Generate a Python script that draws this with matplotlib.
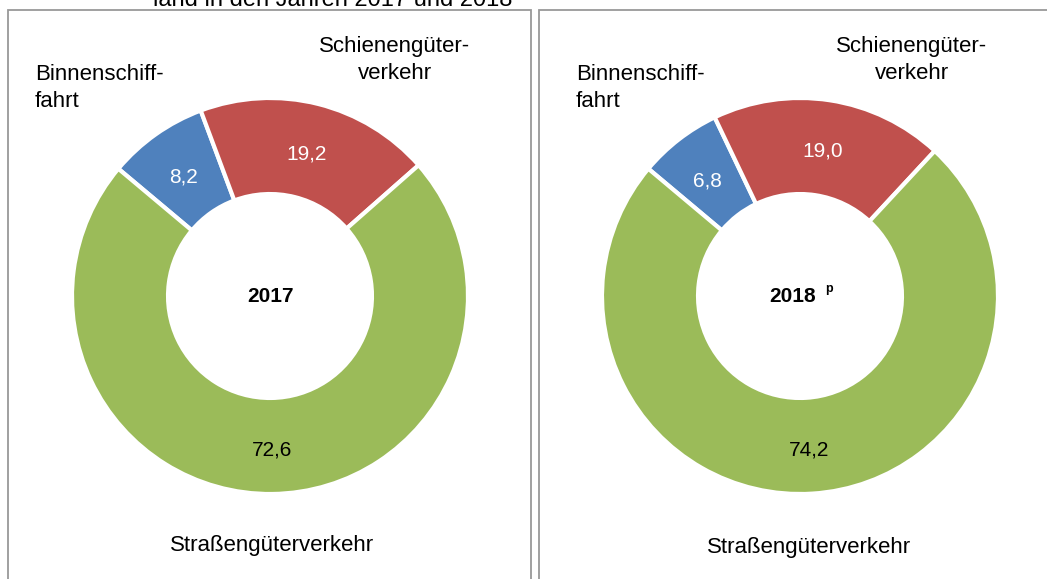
import numpy as np
import matplotlib.pyplot as plt
from matplotlib.patches import Rectangle

plt.rcParams['font.family'] = ['Liberation Sans', 'DejaVu Sans']

# Anteile am Gueterverkehr (Binnenschiff, Schiene, Strasse)
categories = ['Binnenschifffahrt', 'Schienengüterverkehr', 'Straßengüterverkehr']
values_2017 = [8.2, 19.2, 72.6]
values_2018 = [6.8, 19.0, 74.2]
years = ['2017', '2018']
colors = ['#4F81BD', '#C0504D', '#9BBB59']
label_colors = ['white', 'white', 'black']

W, H = 1047, 579
fig = plt.figure(figsize=(W / 100, H / 100), dpi=100)

# panel borders
for x0, x1 in [(8, 531), (539, 1060)]:
    fig.add_artist(Rectangle((x0 / W, -0.05), (x1 - x0) / W, (H - 10) / H + 0.05,
                             transform=fig.transFigure, fill=False,
                             edgecolor='#999999', linewidth=1.3))

# title is cut off at the top edge in the original
fig.text(333 / W, 1 - 6 / H, 'land in den Jahren 2017 und 2018', ha='center',
         va='baseline', fontsize=17)


def donut(cx, cy, vals, year, sup, bin_x, sch_x, str_x, str_y):
    r = 198
    ax = fig.add_axes([(cx - r) / W, (H - cy - r) / H, 2 * r / W, 2 * r / H])
    wedges, _ = ax.pie(vals, colors=colors, startangle=140, counterclock=False,
                       radius=1, wedgeprops=dict(width=0.485, edgecolor='white', linewidth=3))
    ax.set_xlim(-1, 1)
    ax.set_ylim(-1, 1)
    # value labels in the ring
    for w, v, c in zip(wedges, vals, label_colors):
        ang = np.deg2rad((w.theta1 + w.theta2) / 2)
        rr = 0.76
        ax.text(rr * np.cos(ang), rr * np.sin(ang) - 0.02, f'{v:.1f}'.replace('.', ','),
                ha='center', va='center', fontsize=15, color=c)
    if sup:
        ax.text(-0.04, 0, year, ha='center', va='center', fontsize=15, fontweight='bold')
        ax.text(0.146, 0.035, sup, ha='center', va='center', fontsize=9, fontweight='bold')
    else:
        ax.text(0, 0, year, ha='center', va='center', fontsize=15, fontweight='bold')
    ax.text((bin_x - cx) / r, (cy - 88) / r, 'Binnenschiff-\nfahrt', ha='left',
            va='center', fontsize=16, linespacing=1.33, clip_on=False)
    ax.text((sch_x - cx) / r, (cy - 60) / r, 'Schienengüter-\nverkehr', ha='center',
            va='center', fontsize=16, linespacing=1.33, clip_on=False)
    ax.text((str_x - cx) / r, (cy - str_y) / r, 'Straßengüterverkehr', ha='center',
            va='center', fontsize=16, clip_on=False)


donut(270, 296, values_2017, years[0], None, 35, 395, 272, 545)
donut(800, 296, values_2018, years[1], 'p', 576, 912, 809, 548)

fig.savefig('out.png', dpi=100)
